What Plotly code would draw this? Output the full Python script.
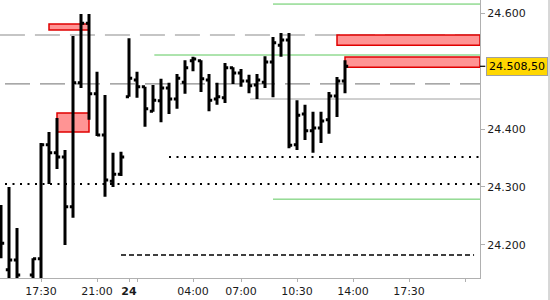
import plotly.graph_objects as go

D1 = "2025-07-23"
D2 = "2025-07-24"

# 30-minute OHLC bars
times = [
    f"{D1} 15:00", f"{D1} 15:30", f"{D1} 16:00", f"{D1} 16:30", f"{D1} 17:00",
    f"{D1} 17:30", f"{D1} 18:00", f"{D1} 18:30", f"{D1} 19:00", f"{D1} 19:30",
    f"{D1} 20:00", f"{D1} 20:30", f"{D1} 21:00", f"{D1} 21:30", f"{D1} 22:00",
    f"{D1} 22:30",
    f"{D2} 00:00", f"{D2} 00:30", f"{D2} 01:00", f"{D2} 01:30", f"{D2} 02:00",
    f"{D2} 02:30", f"{D2} 03:00", f"{D2} 03:30", f"{D2} 04:00", f"{D2} 04:30",
    f"{D2} 05:00", f"{D2} 05:30", f"{D2} 06:00", f"{D2} 06:30", f"{D2} 07:00",
    f"{D2} 07:30", f"{D2} 08:00", f"{D2} 08:30", f"{D2} 09:00", f"{D2} 09:30",
    f"{D2} 10:00", f"{D2} 10:30", f"{D2} 11:00", f"{D2} 11:30", f"{D2} 12:00",
    f"{D2} 12:30", f"{D2} 13:00", f"{D2} 13:30",
]
opens = [24191, 24157, 24174, 24120, 24148, 24176, 24373, 24359, 24352, 24266,
         24480, 24583, 24461, 24390, 24310, 24322,
         24456, 24485, 24473, 24431, 24449, 24471, 24452, 24481, 24518, 24518,
         24485, 24452, 24454, 24506, 24497, 24483, 24476, 24481, 24516, 24545,
         24554, 24373, 24426, 24397, 24402, 24416, 24457, 24483]
highs = [24269, 24300, 24229, 24138, 24177, 24376, 24395, 24419, 24364, 24561,
         24599, 24599, 24499, 24459, 24359, 24361,
         24557, 24499, 24473, 24476, 24487, 24480, 24495, 24519, 24525, 24519,
         24495, 24480, 24514, 24507, 24504, 24494, 24495, 24526, 24559, 24566,
         24566, 24450, 24442, 24430, 24430, 24464, 24490, 24519]
lows = [24177, 24131, 24122, 24090, 24120, 24113, 24305, 24331, 24200, 24247,
        24471, 24416, 24388, 24283, 24300, 24319,
        24456, 24454, 24404, 24430, 24412, 24426, 24435, 24461, 24500, 24464,
        24431, 24442, 24445, 24478, 24473, 24462, 24452, 24471, 24455, 24525,
        24367, 24364, 24381, 24359, 24376, 24392, 24421, 24462]
closes = [24203, 24174, 24148, 24105, 24176, 24373, 24359, 24352, 24266, 24480,
          24583, 24461, 24390, 24312, 24322, 24352,
          24488, 24473, 24435, 24450, 24471, 24452, 24488, 24506, 24521, 24487,
          24450, 24456, 24506, 24497, 24483, 24475, 24485, 24516, 24549, 24554,
          24372, 24424, 24397, 24402, 24414, 24457, 24483, 24508.5]

last_price = 24508.5

# horizontal levels
green_levels = [24616, 24528, 24279]
green_starts = [f"{D2} 09:00", f"{D2} 01:35", f"{D2} 09:00"]
gray_levels = [24452]
gray_starts = [f"{D2} 07:34"]
longdash_levels = [24562.5, 24478]
longdash_starts = [f"{D1} 14:56", f"{D1} 15:15"]
dotted_levels = [24305, 24352]
dotted_starts = [f"{D1} 15:15", f"{D2} 02:30"]
dashed_level = 24182.6
dashed_span = [f"{D1} 22:30", f"{D2} 21:34"]

# zones (x0, x1, y0, y1)
zones = [
    (f"{D1} 18:00", f"{D1} 20:30", 24571, 24581.5),
    (f"{D1} 18:30", f"{D1} 20:30", 24395, 24428),
    (f"{D2} 13:00", f"{D2} 21:56:15", 24545, 24562.5),
    (f"{D2} 13:30", f"{D2} 21:56:15", 24507, 24524.5),
]

x_start = f"{D1} 14:56:15"
x_end = f"{D2} 21:56:15"

x_tickvals = [f"{D1} 17:30", f"{D1} 21:00", f"{D2} 00:00", f"{D2} 00:30",
              f"{D2} 04:00", f"{D2} 07:00", f"{D2} 10:30", f"{D2} 14:00",
              f"{D2} 17:30", f"{D2} 21:00"]
x_ticktext = ["17:30", "21:00", "<b>24</b>", "", "04:00", "07:00", "10:30",
              "14:00", "17:30", ""]
y_tickvals = [24200, 24300, 24400, 24600]
y_ticktext = ["24.200", "24.300", "24.400", "24.600"]

fig = go.Figure()
fig.add_trace(go.Ohlc(
    x=times, open=opens, high=highs, low=lows, close=closes,
    increasing=dict(line=dict(color="black", width=3)),
    decreasing=dict(line=dict(color="black", width=3)),
    tickwidth=0.4, hoverinfo="skip", showlegend=False,
))

shapes = []
for lvl, st in zip(green_levels, green_starts):
    shapes.append(dict(type="line", xref="x", yref="y", x0=st, x1=x_end, y0=lvl, y1=lvl,
                       line=dict(color="#5cc85c", width=1), layer="below"))
for lvl, st in zip(gray_levels, gray_starts):
    shapes.append(dict(type="line", xref="x", yref="y", x0=st, x1=x_end, y0=lvl, y1=lvl,
                       line=dict(color="#a0a0a0", width=1), layer="below"))
for lvl, st in zip(longdash_levels, longdash_starts):
    shapes.append(dict(type="line", xref="x", yref="y", x0=st, x1=x_end, y0=lvl, y1=lvl,
                       line=dict(color="#8c8c8c", width=1.2, dash="25px,10px"), layer="below"))
for lvl, st in zip(dotted_levels, dotted_starts):
    shapes.append(dict(type="line", xref="x", yref="y", x0=st, x1=x_end, y0=lvl, y1=lvl,
                       line=dict(color="black", width=2, dash="2px,5.5px"), layer="below"))
shapes.append(dict(type="line", xref="x", yref="y", x0=dashed_span[0], x1=dashed_span[1],
                   y0=dashed_level, y1=dashed_level,
                   line=dict(color="black", width=1.5, dash="5px,3px"), layer="below"))
for x0, x1, y0, y1 in zones:
    shapes.append(dict(type="rect", xref="x", yref="y", x0=x0, x1=x1, y0=y0, y1=y1,
                       fillcolor="#ff9494", line=dict(color="#e00000", width=1.5), layer="below"))
# price tick mark on axis
shapes.append(dict(type="line", xref="paper", yref="y", x0=1, x1=1.011, y0=last_price, y1=last_price,
                   line=dict(color="black", width=1.2)))
# right border line
shapes.append(dict(type="line", xref="paper", yref="paper", x0=549 / 480, x1=549 / 480,
                   y0=-22 / 278, y1=1, line=dict(color="#b0b0b0", width=1)))

fig.update_layout(
    width=550, height=300,
    margin=dict(l=0, r=70, t=0, b=22),
    paper_bgcolor="white", plot_bgcolor="white",
    font=dict(family="DejaVu Sans", size=11, color="#1a1a1a"),
    shapes=shapes,
    showlegend=False,
    xaxis=dict(
        type="date", range=[x_start, x_end],
        rangebreaks=[dict(bounds=[23, 24], pattern="hour")],
        rangeslider=dict(visible=False),
        tickvals=x_tickvals, ticktext=x_ticktext,
        ticks="outside", ticklen=3, tickcolor="#b0b0b0",
        showline=True, linecolor="#b0b0b0", linewidth=1,
        showgrid=False, zeroline=False,
        tickfont=dict(size=11, color="#1a1a1a"),
    ),
    yaxis=dict(
        side="right", range=[24142.8, 24623],
        tickvals=y_tickvals, ticktext=y_ticktext,
        ticks="outside", ticklen=4, tickcolor="#b0b0b0",
        showline=True, linecolor="#b0b0b0", linewidth=1,
        showgrid=False, zeroline=False,
        tickfont=dict(size=11, color="#1a1a1a"),
    ),
    annotations=[dict(
        xref="paper", yref="y", x=486 / 480, y=last_price, xanchor="left", yanchor="middle",
        text="24.508,50", showarrow=False, bgcolor="#ffd700", bordercolor="#a0a0a0",
        borderwidth=1, borderpad=2, font=dict(size=11, color="black", family="DejaVu Sans"),
    )],
)

fig.write_html("out.html")
